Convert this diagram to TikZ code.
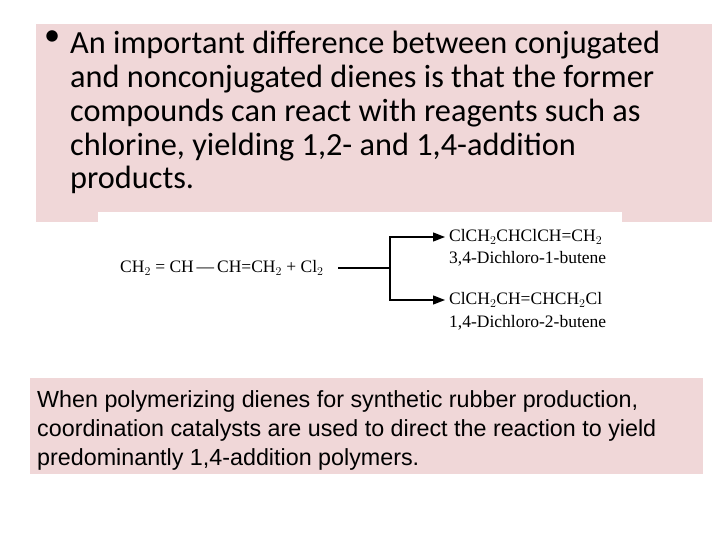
\documentclass[tikz,border=0pt]{standalone}
\usepackage{fontspec}
\setmainfont{Liberation Serif}
\newfontfamily\calib{Carlito}
\newfontfamily\arialf{Liberation Sans}
\definecolor{pinkbg}{RGB}{240,215,216}
\usetikzlibrary{arrows.meta}
\begin{document}
\begin{tikzpicture}[x=1pt,y=-1pt,
  chem/.style={anchor=west,inner sep=0pt,font=\fontsize{17.5}{20}\selectfont},
  arr/.style={-{Triangle[length=12pt,width=9pt]},line width=1.3pt}]
\useasboundingbox (0,0) rectangle (720,540);
\fill[pinkbg] (36,24) rectangle (712,222);
\fill[pinkbg] (30,378) rectangle (703,474);
\fill[white] (98,212) rectangle (622,345);
\node[anchor=north west,inner sep=0pt,align=left,
  font=\calib\fontsize{32.3}{33.8}\selectfont] (t) at (70,31)
  {An important difference between conjugated\\and nonconjugated dienes is that the former\\compounds can react with reagents such as\\chlorine, yielding 1,2- and 1,4-addition\\products.};
\node[anchor=north west,inner sep=0pt,font=\calib\fontsize{32.3}{33.8}\selectfont] (bu) at (44,31) {•};
\node[anchor=north west,inner sep=0pt,align=left,
  font=\arialf\fontsize{23.3}{29}\selectfont] (b) at (37,390)
  {When polymerizing dienes for synthetic rubber production,\\coordination catalysts are used to direct the reaction to yield\\predominantly 1,4-addition polymers.};
\node[chem] (r) at (120,268) {CH$_2$ = CH\,—\,CH=CH$_2$ + Cl$_2$};
\node[chem] (p1) at (449,237) {ClCH$_2$CHClCH=CH$_2$};
\node[chem] (n1) at (449,259) {3,4-Dichloro-1-butene};
\node[chem] (p2) at (449,300) {ClCH$_2$CH=CHCH$_2$Cl};
\node[chem] (n2) at (449,323) {1,4-Dichloro-2-butene};
\coordinate (j) at (390,268);
\draw[line width=1.3pt] (338,268) -- (j);
\draw[arr] (j) |- ([xshift=-4pt]p1.west);
\draw[arr] (j) |- ([xshift=-4pt]p2.west);
\end{tikzpicture}
\end{document}
